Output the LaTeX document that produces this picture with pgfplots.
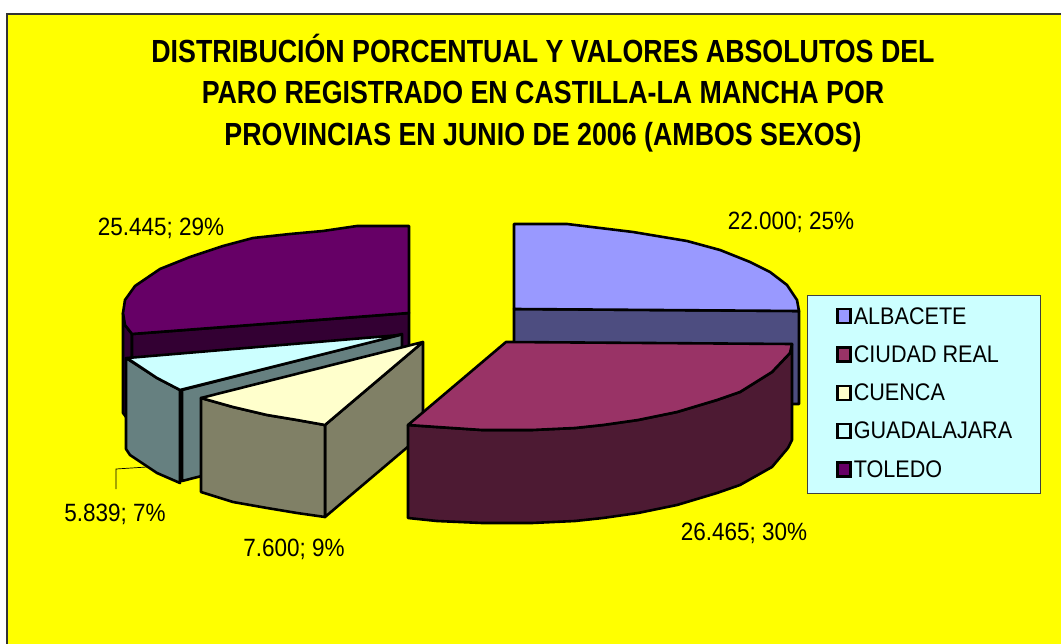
\documentclass[border=0pt]{standalone}
\usepackage{fontspec}
\setmainfont{Liberation Sans}
\usepackage{pgfplots}
\pgfplotsset{compat=1.18}
\definecolor{bgY}{HTML}{FFFF00}
\definecolor{albT}{HTML}{9999FF}\definecolor{albS}{HTML}{4D4D80}
\definecolor{ciuT}{HTML}{993366}\definecolor{ciuS}{HTML}{4D1A33}
\definecolor{cueT}{HTML}{FFFFCC}\definecolor{cueS}{HTML}{808066}
\definecolor{guaT}{HTML}{CCFFFF}\definecolor{guaS}{HTML}{668080}
\definecolor{tolT}{HTML}{660066}\definecolor{tolS}{HTML}{330033}
\newcommand{\lab}[1]{\fontsize{25}{28}\selectfont\scalebox{0.9}[1]{#1}}
\newcommand{\leg}[1]{\makebox[156pt][l]{\rule[-11pt]{0pt}{24pt}\fontsize{24}{26}\selectfont\raisebox{2.5pt}{\scalebox{0.9}[1]{#1}}}}
\newcommand{\ttl}[1]{\fontsize{32}{32}\selectfont\bfseries\scalebox{0.837}[1]{#1}}
\begin{document}
\begin{tikzpicture}
\begin{axis}[
  scale only axis, width=1061pt, height=644pt,
  xmin=0, xmax=1061, ymin=0, ymax=644, y dir=reverse,
  axis lines=none, clip=true,
  legend cell align=left,
  legend style={at={(axis cs:807,295)}, anchor=north west, draw=black!75, line width=0.8pt,
    fill=guaT, inner xsep=29pt, inner ysep=10pt, row sep=13.5pt,
    /tikz/every even column/.append style={column sep=11pt}},
  pie/.style={draw=black, line width=2.6pt, line join=round, forget plot},
  legend image code/.code={\draw[#1, draw=black, line width=2.4pt] (0pt,-5.5pt) rectangle (13pt,8.5pt);},
]
\addlegendimage{fill=albT}\addlegendentry{\leg{ALBACETE}}
\addlegendimage{fill=ciuT}\addlegendentry{\leg{CIUDAD REAL}}
\addlegendimage{fill=cueT}\addlegendentry{\leg{CUENCA}}
\addlegendimage{fill=guaT}\addlegendentry{\leg{GUADALAJARA}}
\addlegendimage{fill=tolT}\addlegendentry{\leg{TOLEDO}}

% background: page, then the yellow chart area with its top and left edges
\addplot[fill=white, draw=none, forget plot] coordinates {(0,0) (1061,0) (1061,644) (0,644)} -- cycle;
\addplot[fill=bgY, draw=none, forget plot] coordinates {(7,14) (1061,14) (1061,644) (7,644)} -- cycle;
\addplot[draw=black!80, line width=2pt, forget plot] coordinates {(7,644) (7,14) (1061,14)};

% Albacete
\addplot[pie, fill=albS] coordinates {(514,309) (799,311) (799,404) (514,404)} -- cycle;
\addplot[pie, fill=albT] coordinates {(514,224) (567,224) (600,228) (633,232) (687,241) (720,250) (750,262) (770,272) (787,285) (797,300) (799,311) (514,309)} -- cycle;

% Toledo
\addplot[pie, fill=tolS] coordinates {(123,313) (125,325) (132,334) (132,425) (123,413)} -- cycle;
\addplot[pie, fill=tolS] coordinates {(409,313) (409,413) (132,433) (132,334)} -- cycle;
\addplot[pie, fill=tolT] coordinates {(409,226) (357,226) (323,231) (290,234) (253,238) (223,246) (190,257) (160,269) (135,286) (125,300) (123,313) (125,325) (132,334) (409,313)} -- cycle;

% Guadalajara
\addplot[pie, fill=guaS] coordinates {(182,390) (402,334) (402,425) (182,481)} -- cycle;
\addplot[pie, fill=guaS] coordinates {(126,358) (157,378) (180,390) (180,483) (157,473) (130,455) (126,449)} -- cycle;
\addplot[pie, fill=guaT] coordinates {(127,358) (400,335) (180,390) (157,378)} -- cycle;
\addplot[black, line width=0.7pt, forget plot] coordinates {(116,489) (116,469) (147,467)};

% Cuenca
\addplot[pie, fill=cueS] coordinates {(325,425) (423,342) (423,434) (325,517)} -- cycle;
\addplot[pie, fill=cueS] coordinates {(201,398) (233,407) (267,415) (297,420) (325,425) (325,517) (297,513) (267,508) (233,502) (201,492)} -- cycle;
\addplot[pie, fill=cueT] coordinates {(423,342) (201,398) (233,407) (267,415) (297,420) (325,425)} -- cycle;

% Ciudad Real
\addplot[pie, fill=ciuS] coordinates {(408,425) (437,427) (482,430) (532,430) (575,428) (603,425) (638,420) (677,412) (717,400) (740,392) (772,372) (790,353) (792,344) (792,440) (788,448) (772,467) (740,485) (717,493) (677,505) (638,513) (603,518) (575,521) (532,523) (482,523) (437,521) (408,518)} -- cycle;
\addplot[pie, fill=ciuT] coordinates {(506,342) (792,344) (790,353) (772,372) (740,392) (717,400) (677,412) (638,420) (603,425) (575,428) (532,430) (482,430) (437,427) (408,425)} -- cycle;

% title
\node[anchor=base] at (axis cs:543,63) {\ttl{DISTRIBUCIÓN PORCENTUAL Y VALORES ABSOLUTOS DEL}};
\node[anchor=base] at (axis cs:543,104) {\ttl{PARO REGISTRADO EN CASTILLA-LA MANCHA POR}};
\node[anchor=base] at (axis cs:543,146) {\ttl{PROVINCIAS EN JUNIO DE 2006 (AMBOS SEXOS)}};

% data labels
\node[anchor=base] at (axis cs:161,236) {\lab{25.445; 29\%}};
\node[anchor=base] at (axis cs:791,230) {\lab{22.000; 25\%}};
\node[anchor=base] at (axis cs:744,540) {\lab{26.465; 30\%}};
\node[anchor=base] at (axis cs:294,556) {\lab{7.600; 9\%}};
\node[anchor=base] at (axis cs:115,521) {\lab{5.839; 7\%}};
\end{axis}
\end{tikzpicture}
\end{document}
